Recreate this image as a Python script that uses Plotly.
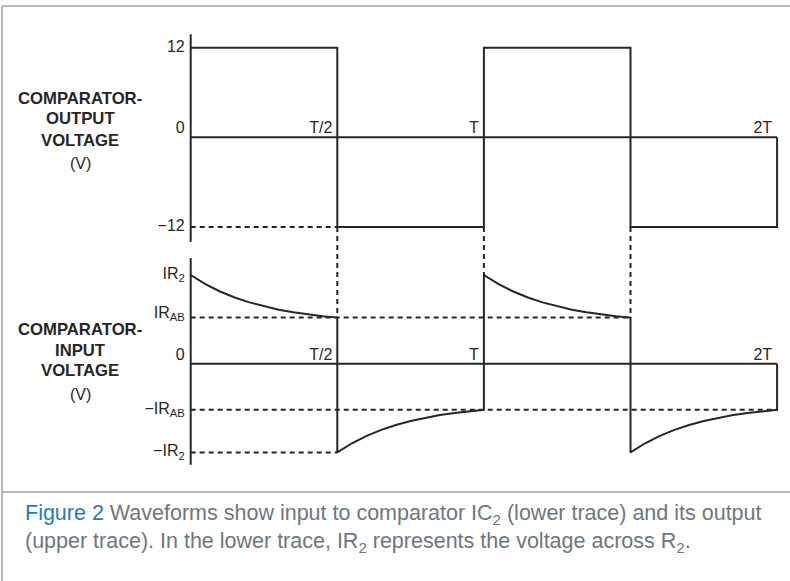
import plotly.graph_objects as go

# ---------------- data ----------------
# time in units of the period T
T_LABELS = ["T/2", "T", "2T"]
T_LABEL_POS = [0.5, 1.0, 2.0]

# comparator output (V)
OUT_T = [0, 0.5, 0.5, 1.0, 1.0, 1.5, 1.5, 2.0, 2.0]
OUT_V = [12, 12, -12, -12, 12, 12, -12, -12, 0]
OUT_TICK_VALS = [12, 0, -12]
OUT_TICK_TEXT = ["12", "0", "\u221212"]

# comparator input, in units of IR2
IR2 = 1.0
IRAB = 0.52
# one half-period of the decaying input
DECAY_T = [0.0, 0.05, 0.10, 0.15, 0.20, 0.25, 0.30, 0.35, 0.40, 0.45, 0.50]
DECAY_V = [1.0, 0.897, 0.814, 0.746, 0.691, 0.646, 0.609, 0.579, 0.555, 0.536, 0.52]
IN_TICK_VALS = [IR2, IRAB, -IRAB, -IR2]
IN_TICK_TEXT = ["IR<sub>2</sub>", "IR<sub>AB</sub>",
                "\u2212IR<sub>AB</sub>", "\u2212IR<sub>2</sub>"]

TITLE_OUT = ["COMPARATOR-", "OUTPUT", "VOLTAGE", "(V)"]
TITLE_IN = ["COMPARATOR-", "INPUT", "VOLTAGE", "(V)"]

CAPTION_1 = ('<span style="color:#1f7cc0">Figure 2</span> Waveforms show input to '
             'comparator IC<sub>2</sub> (lower trace) and its output')
CAPTION_2 = ('(upper trace). In the lower trace, IR<sub>2</sub> represents the '
             'voltage across R<sub>2</sub>.')

# ---------------- layout geometry ----------------
W, H = 790, 581
X0_PX, T_PX = 190.7, 293.2
TOP_ZERO_PX, TOP_PX_PER_V = 137.3, 7.467
BOT_ZERO_PX, BOT_PX_PER_U = 363.7, 88.7
TOP_AXIS_EXT = [13.8, -14.0]
BOT_AXIS_EXT = [1.19, -1.14]

xr = [-X0_PX / T_PX, (W - X0_PX) / T_PX]
yr_top = [(TOP_ZERO_PX - H) / TOP_PX_PER_V, TOP_ZERO_PX / TOP_PX_PER_V]
yr_bot = [(BOT_ZERO_PX - H) / BOT_PX_PER_U, BOT_ZERO_PX / BOT_PX_PER_U]

TICK_GAP = 6 / T_PX       # gap between axis and tick labels
TLAB_GAP = 5 / T_PX       # gap between T labels and the edge
IRAB_LIFT = 3.5 / BOT_PX_PER_U


def top_to_bot(v):
    px = TOP_ZERO_PX - v * TOP_PX_PER_V
    return (BOT_ZERO_PX - px) / BOT_PX_PER_U


# build input waveform from the half-period curve
in_t, in_v = [], []
for k in range(4):
    sign = 1 if k % 2 == 0 else -1
    in_t += [k * 0.5 + t for t in DECAY_T]
    in_v += [sign * v for v in DECAY_V]
in_t.append(2.0)
in_v.append(0)

INK = "#262626"
LW = 2
DASH = "5px,4px"
FONT = "Liberation Sans, Arial, sans-serif"
TICK_SIZE = 16

fig = go.Figure()


def line(x, y, axis, dash="solid", width=LW):
    fig.add_trace(go.Scatter(x=x, y=y, yaxis=axis, mode="lines",
                             line=dict(color=INK, width=width, dash=dash),
                             hoverinfo="skip", showlegend=False))


def labels(x, y, text, axis, pos):
    fig.add_trace(go.Scatter(x=x, y=y, text=text, yaxis=axis, mode="text",
                             textposition=pos,
                             textfont=dict(family=FONT, size=TICK_SIZE, color=INK),
                             hoverinfo="skip", showlegend=False, cliponaxis=False))


# top chart
line([0, 0], TOP_AXIS_EXT, "y")
line([0, 2], [0, 0], "y")
line([0, 0.5], [-12, -12], "y", DASH)
line(OUT_T, OUT_V, "y")

# connecting dashed verticals (drawn on lower axis)
line([0.5, 0.5], [top_to_bot(-12), IRAB], "y2", DASH)
line([1.0, 1.0], [top_to_bot(-12), IR2], "y2", DASH)
line([1.5, 1.5], [top_to_bot(-12), IRAB], "y2", DASH)

# lower chart
line([0, 0], BOT_AXIS_EXT, "y2")
line([0, 2], [0, 0], "y2")
line([0, 1.5], [IRAB, IRAB], "y2", DASH)
line([0, 2], [-IRAB, -IRAB], "y2", DASH)
line([0, 0.5], [-IR2, -IR2], "y2", DASH)
line(in_t, in_v, "y2")

# tick labels on the left axes
top_nonzero = [(v, t) for v, t in zip(OUT_TICK_VALS, OUT_TICK_TEXT) if v != 0]
labels([-TICK_GAP] * len(top_nonzero), [v for v, _ in top_nonzero],
       [t for _, t in top_nonzero], "y", "middle left")
labels([-TICK_GAP], [0], ["0"], "y", "top left")
labels([-TICK_GAP] * len(IN_TICK_VALS),
       [v + (IRAB_LIFT if v == IRAB else 0) for v in IN_TICK_VALS],
       IN_TICK_TEXT, "y2", "middle left")
labels([-TICK_GAP], [0], ["0"], "y2", "top left")

# time labels above the zero lines
for ax in ("y", "y2"):
    labels([p - TLAB_GAP for p in T_LABEL_POS], [0] * len(T_LABEL_POS), T_LABELS, ax, "top left")

ann = []
# side titles
TITLE_X = 80 / W
for lines, ys in ((TITLE_OUT, [98, 118, 140, 163]), (TITLE_IN, [329, 350, 371, 394])):
    for txt, ypx in zip(lines, ys):
        bold = txt != "(V)"
        ann.append(dict(x=TITLE_X, y=1 - ypx / H, xref="paper", yref="paper",
                        text=f"<b>{txt}</b>" if bold else txt, showarrow=False,
                        xanchor="center", yanchor="middle",
                        font=dict(family=FONT, size=16.7 if bold else 16, color=INK)))

# caption
CAP_COLOR = "#6b7781"
for txt, ypx in ((CAPTION_1, 514), (CAPTION_2, 542)):
    ann.append(dict(x=23 / W, y=1 - ypx / H, xref="paper", yref="paper", text=txt,
                    showarrow=False, xanchor="left", yanchor="middle",
                    font=dict(family=FONT, size=21.5, color=CAP_COLOR)))

FRAME = "#b8b8c0"
shapes = [
    dict(type="line", xref="paper", yref="paper", x0=2 / W, x1=1, y0=1 - 6 / H, y1=1 - 6 / H,
         line=dict(color=FRAME, width=2)),
    dict(type="line", xref="paper", yref="paper", x0=2 / W, x1=2 / W, y0=0, y1=1 - 6 / H,
         line=dict(color=FRAME, width=2)),
    dict(type="line", xref="paper", yref="paper", x0=2 / W, x1=1, y0=1 - 492 / H, y1=1 - 492 / H,
         line=dict(color=FRAME, width=2)),
]

axis_off = dict(showgrid=False, zeroline=False, showline=False, showticklabels=False,
                ticks="", fixedrange=True)
fig.update_layout(
    width=W, height=H, margin=dict(l=0, r=0, t=0, b=0),
    paper_bgcolor="white", plot_bgcolor="white",
    xaxis=dict(range=xr, domain=[0, 1], **axis_off),
    yaxis=dict(range=yr_top, domain=[0, 1], **axis_off),
    yaxis2=dict(range=yr_bot, domain=[0, 1], overlaying="y", **axis_off),
    annotations=ann, shapes=shapes,
)

fig.write_html("out.html", config={"displayModeBar": False},
               post_script="document.body.style.margin='0';"
                           "document.body.style.overflow='hidden';")
